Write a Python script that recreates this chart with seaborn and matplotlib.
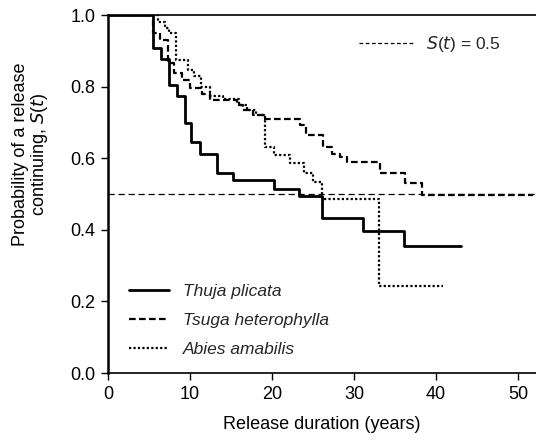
import pandas as pd
import matplotlib
matplotlib.use("Agg")
import matplotlib.pyplot as plt
from matplotlib.lines import Line2D
import seaborn as sns

# step times (years) and survival S(t) after each step; last time = end of curve
thuja_t = [0, 5.5, 6.5, 7.4, 8.4, 9.4, 10.1, 11.2, 13.3, 15.3, 20.3, 23.3, 26.1, 31.1, 36.1, 43.1]
thuja_s = [1.0, 0.908, 0.877, 0.804, 0.774, 0.699, 0.646, 0.611, 0.558, 0.539, 0.514, 0.494, 0.432, 0.398, 0.356, 0.356]

tsuga_t = [0, 5.5, 6.3, 7.3, 8.0, 9.0, 10.0, 11.5, 12.4, 15.7, 16.5, 17.7, 19.0, 23.4, 24.1, 26.2,
           27.3, 28.3, 29.1, 33.2, 36.2, 38.3, 51.8]
tsuga_s = [1.0, 0.95, 0.93, 0.866, 0.838, 0.818, 0.796, 0.78, 0.763, 0.749, 0.735, 0.72, 0.709, 0.693,
           0.665, 0.632, 0.612, 0.604, 0.588, 0.558, 0.530, 0.497, 0.497]

abies_t = [0, 6.1, 7.0, 7.5, 8.3, 9.8, 10.5, 11.3, 12.5, 14.0, 16.0, 17.0, 18.0, 19.1, 20.2, 22.2,
           23.9, 25.0, 26.1, 33.0, 40.9]
abies_s = [1.0, 0.98, 0.965, 0.95, 0.874, 0.846, 0.83, 0.80, 0.775, 0.765, 0.75, 0.735, 0.72, 0.632,
           0.609, 0.586, 0.558, 0.534, 0.485, 0.243, 0.243]

species = ["Thuja plicata", "Tsuga heterophylla", "Abies amabilis"]
ref_level = 0.5

df = pd.concat([
    pd.DataFrame({"t": thuja_t, "S": thuja_s, "species": species[0]}),
    pd.DataFrame({"t": tsuga_t, "S": tsuga_s, "species": species[1]}),
    pd.DataFrame({"t": abies_t, "S": abies_s, "species": species[2]}),
])

sns.set_style("ticks")
plt.rcParams['font.family'] = ['Liberation Sans', 'DejaVu Sans']

fig = plt.figure(figsize=(5.36, 4.4), dpi=100)
ax = fig.add_axes([108 / 536, 67 / 440, 1 - 108 / 536, 358 / 440])

styles = {
    species[0]: dict(linestyle="-", linewidth=2.0),
    species[1]: dict(dashes=(3, 1.5), linewidth=1.6),
    species[2]: dict(dashes=(1, 1), linewidth=1.6),
}

for sp in species:
    sub = df[df["species"] == sp]
    sns.lineplot(data=sub, x="t", y="S", ax=ax, color="black", drawstyle="steps-post",
                 estimator=None, label=sp, **styles[sp])

ax.axhline(ref_level, color="black", linewidth=0.9, dashes=(5, 3))

ax.set_xlim(0, 52.2)
ax.set_ylim(0, 1.0)
ax.set_xticks([0, 10, 20, 30, 40, 50])
ax.set_yticks([0.0, 0.2, 0.4, 0.6, 0.8, 1.0])
ax.set_yticklabels(["0.0", "0.2", "0.4", "0.6", "0.8", "1.0"])
ax.tick_params(labelsize=13, length=5, width=1, color="black", labelcolor="black", pad=4)
ax.spines["right"].set_visible(False)
for s in ["left", "bottom", "top"]:
    ax.spines[s].set_color("black")
ax.spines["left"].set_linewidth(1.8)
ax.spines["bottom"].set_linewidth(1.2)
ax.spines["top"].set_linewidth(1.2)

ax.set_xlabel("Release duration (years)", fontsize=13, color="black", labelpad=10)
ax.set_ylabel("Probability of a release\ncontinuing, $S$($t$)", fontsize=13, color="black",
              linespacing=1.0)
ax.yaxis.set_label_coords(-0.135, 0.61)

leg = ax.legend(loc="lower left", bbox_to_anchor=(0.012, 0.0), frameon=False, fontsize=12.5,
                handlelength=2.3, labelspacing=0.8, handletextpad=0.8)
for txt in leg.get_texts():
    txt.set_style("italic")
ax.add_artist(leg)

ref_handle = Line2D([], [], color="black", linewidth=0.9, dashes=(3, 2))
ax.legend([ref_handle], ["$S$($t$) = 0.5"], loc="upper right", bbox_to_anchor=(0.955, 0.99),
          frameon=False, fontsize=12.5, handlelength=3.1, handletextpad=0.8)

fig.savefig("out.png", dpi=100)
